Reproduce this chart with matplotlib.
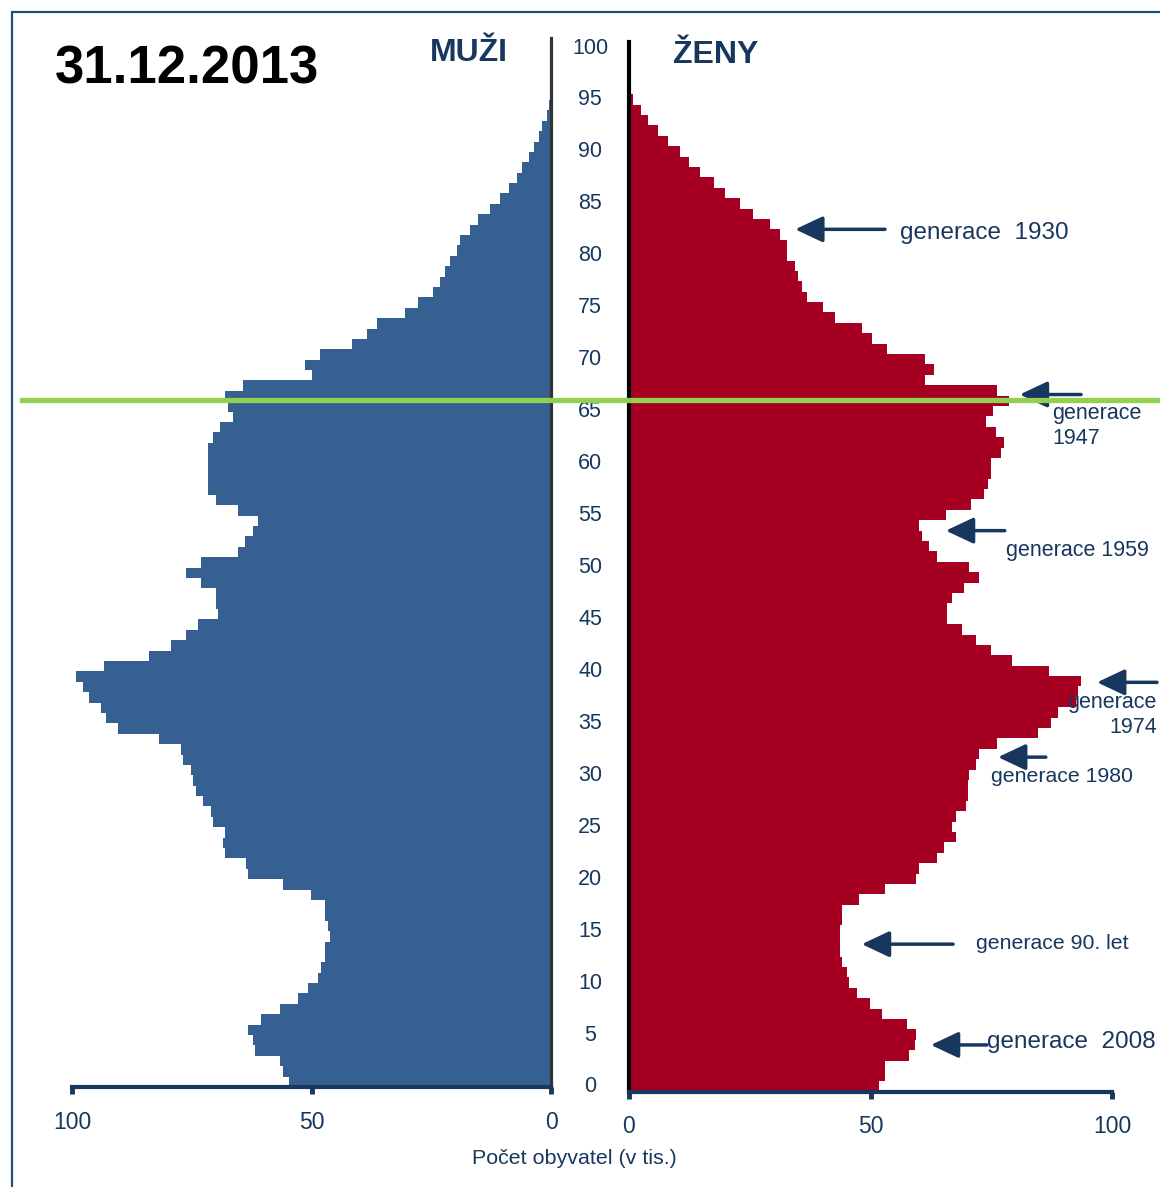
import matplotlib
matplotlib.use('Agg')
import matplotlib.pyplot as plt
from matplotlib.lines import Line2D
from matplotlib.patches import Rectangle

plt.rcParams['font.family'] = ['Liberation Sans', 'DejaVu Sans']

# Věková struktura k 31.12.2013 (v tisících), věk 0..100
vek = list(range(101))
muzi = [54.8, 56.0, 56.5, 61.8, 62.2, 63.3, 60.6, 56.5, 52.8, 50.7,
        48.6, 48.1, 47.1, 47.1, 46.1, 46.6, 47.1, 47.1, 50.2, 55.9,
        63.3, 63.7, 68.0, 68.4, 68.0, 70.5, 71.0, 72.6, 74.1, 74.7,
        75.2, 76.8, 77.2, 81.9, 90.3, 92.8, 93.9, 96.5, 97.6, 99.2,
        93.4, 84.0, 79.4, 76.2, 73.6, 69.5, 70.0, 70.0, 73.1, 76.2,
        73.1, 65.3, 63.8, 62.2, 61.2, 65.3, 70.0, 71.6, 71.6, 71.6,
        71.6, 71.6, 70.5, 69.0, 66.3, 67.4, 68.1, 64.4, 49.9, 51.4,
        48.3, 41.5, 38.4, 36.3, 30.5, 27.8, 24.7, 23.2, 22.2, 21.1,
        19.6, 19.1, 17.0, 15.3, 12.8, 10.7, 8.7, 7.1, 6.0, 4.5,
        3.5, 2.5, 1.9, 0.8, 0.5, 0.3, 0.2, 0.1, 0.05, 0.03, 0.02]
zeny = [51.8, 52.9, 52.9, 58.0, 59.2, 59.5, 57.5, 52.4, 49.8, 47.2,
        45.6, 45.2, 44.1, 43.7, 43.7, 43.7, 44.1, 44.1, 47.7, 52.9,
        59.5, 60.1, 63.7, 65.3, 67.8, 66.8, 67.8, 69.8, 70.1, 70.1,
        70.4, 71.9, 72.4, 76.1, 84.7, 87.3, 88.9, 92.5, 93.0, 93.5,
        86.9, 79.2, 75.0, 71.9, 68.9, 65.8, 65.8, 66.8, 69.3, 72.4,
        70.4, 63.7, 62.1, 60.6, 60.1, 65.7, 70.9, 73.4, 74.4, 75.0,
        75.0, 77.1, 77.6, 76.0, 74.0, 75.4, 78.6, 76.1, 61.2, 63.2,
        61.2, 53.4, 50.4, 48.2, 42.6, 40.1, 36.9, 35.9, 34.9, 34.4,
        32.8, 32.8, 31.3, 29.2, 25.6, 22.9, 19.9, 17.7, 14.7, 12.5,
        10.6, 8.1, 6.0, 4.0, 2.4, 0.8, 0.4, 0.2, 0.1, 0.05, 0.03]
popisky_veku = list(range(0, 101, 5))
tiky_x = [0, 50, 100]

# popisky generací: text, věk šipky, hrot, konec, x textu, y textu, zarovnání, velikost
generace = [
    ('generace  1930', 83.0, 34.4, 53.0, 56.1, 82.6, 'left', 17.5),
    ('generace\n1947', 67.1, 80.9, 93.6, 87.6, 64.1, 'left', 15.5),
    ('generace 1959', 54.0, 65.6, 77.8, 78.1, 52.1, 'left', 15.5),
    ('generace\n1974', 39.4, 96.9, 109.3, 109.3, 36.3, 'right', 15.5),
    ('generace 1980', 32.2, 76.4, 86.3, 74.9, 30.3, 'left', 15.3),
    ('generace 90. let', 14.2, 48.2, 67.1, 71.8, 14.3, 'left', 15.3),
    ('generace  2008', 4.5, 62.5, 74.1, 74.1, 4.8, 'left', 17.5),
]

NAVY = '#17375e'
MODRA = '#376092'
CERVENA = '#a50021'
ZELENA = '#92d050'

W, H = 1160, 1187
fig = plt.figure(figsize=(W / 100, H / 100), dpi=100)


def box(x0, y_top, x1, y_bottom):
    return [x0 / W, 1 - y_bottom / H, (x1 - x0) / W, (y_bottom - y_top) / H]


ax_m = fig.add_axes(box(72, 1087 - 10.39 * 101, 551, 1087))
ax_z = fig.add_axes(box(629, 1091.7 - 10.39 * 101, 1112, 1091.7))

ax_m.barh(vek, muzi, height=1, align='edge', color=MODRA, linewidth=0)
ax_m.set_xlim(100, 0)
ax_z.barh(vek, zeny, height=1, align='edge', color=CERVENA, linewidth=0)
ax_z.set_xlim(0, 100)

for ax in (ax_m, ax_z):
    ax.set_ylim(0, 101)
    ax.set_yticks([])
    ax.set_xticks(tiky_x)
    ax.set_xticklabels([str(t) for t in tiky_x], fontsize=16.5, color=NAVY)
    ax.tick_params(axis='x', length=5, width=3.5, color=NAVY, pad=12)
    ax.spines['top'].set_visible(False)
    ax.spines['bottom'].set_color(NAVY)
    ax.spines['bottom'].set_linewidth(3)
    ax.set_facecolor('none')

ax_m.spines['left'].set_visible(False)
ax_m.spines['right'].set_color('#333333')
ax_m.spines['right'].set_linewidth(2.3)
ax_z.spines['right'].set_visible(False)
ax_z.spines['left'].set_color('black')
ax_z.spines['left'].set_linewidth(3)

# věk uprostřed mezi oběma polovinami
for a in popisky_veku:
    ax_m.text(-8.2, a, str(a), ha='center', va='center', fontsize=15.5,
              color=NAVY, clip_on=False)

for text, a, hrot, konec, tx, ty, ha, vel in generace:
    ax_z.annotate('', xy=(hrot, a), xytext=(konec, a), annotation_clip=False,
                  arrowprops=dict(arrowstyle='-|>,head_length=0.85,head_width=0.4',
                                  mutation_scale=20, color=NAVY, lw=2.5,
                                  shrinkA=0, shrinkB=0))
    ax_z.text(tx, ty, text, ha=ha, va='center', multialignment=ha,
              fontsize=vel, color=NAVY, linespacing=1.25, clip_on=False)

fig.text(55 / W, 1 - 70 / H, '31.12.2013', fontsize=38, fontweight='bold',
         color='black', va='center')
fig.text(430 / W, 1 - 53 / H, 'MUŽI', fontsize=23, fontweight='bold',
         color=NAVY, va='center')
fig.text(673 / W, 1 - 55 / H, 'ŽENY', fontsize=23, fontweight='bold',
         color=NAVY, va='center')
fig.text(574 / W, 1 - 1158 / H, 'Počet obyvatel (v tis.)', fontsize=15.4,
         color=NAVY, ha='center', va='center')

# zelená čára (hranice věku 66 let) a rámeček
fig.add_artist(Line2D([22 / W, 1], [1 - 400 / H, 1 - 400 / H], color=ZELENA,
                      lw=3.8, transform=fig.transFigure))
fig.add_artist(Rectangle((12 / W, -0.1), 1.2, 1.1 - 12 / H, fill=False,
                         edgecolor='#1f4e79', lw=1.6, transform=fig.transFigure))

fig.savefig('out.png', dpi=100)
